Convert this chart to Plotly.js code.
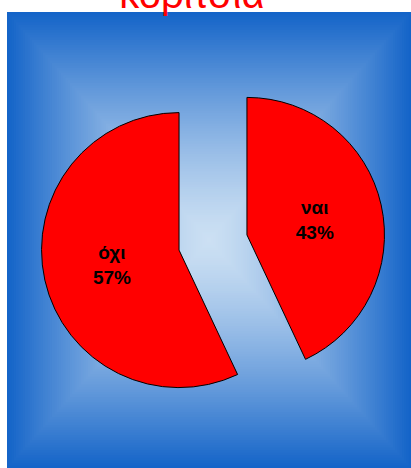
<!DOCTYPE html>
<html>
<head>
<meta charset="utf-8">
<script src="https://cdn.plot.ly/plotly-3.0.1.min.js"></script>
<style>
  html, body { margin: 0; padding: 0; background: #ffffff; }
  #chart { width: 411px; height: 468px; }
</style>
</head>
<body>
<div id="chart"></div>
<script>
// ---- data ----
const categories = ['ναι', 'όχι'];
const values = [43, 57];
const chartTitle = 'κορίτσια';

// ---- background rectangular gradient (styling) ----
const centerColor = [204, 224, 243];
const edgeColor = [20, 100, 200];
const steps = 90;
const shapes = [];
for (let i = 0; i < steps; i++) {
  const t = 1 - i / steps;           // 1 at outer edge -> small at center
  const k = Math.pow(t, 1.35);
  const c = centerColor.map((cc, j) => Math.round(cc + (edgeColor[j] - cc) * k));
  shapes.push({
    type: 'rect', xref: 'paper', yref: 'paper', layer: 'below',
    x0: 0.5 - 0.5 * t, x1: 0.5 + 0.5 * t,
    y0: 0.5 - 0.5 * t, y1: 0.5 + 0.5 * t,
    fillcolor: 'rgb(' + c.join(',') + ')',
    line: { width: 0 }
  });
}

const trace = {
  type: 'pie',
  labels: categories,
  values: values,
  sort: false,
  direction: 'clockwise',
  rotation: 0,
  pull: [0.253, 0.253],
  marker: { colors: ['#ff0000', '#ff0000'], line: { color: '#000000', width: 1 } },
  textinfo: 'label+percent',
  textposition: 'inside',
  insidetextorientation: 'horizontal',
  textfont: { family: 'Liberation Sans, Arial, sans-serif', size: 19, color: '#000000', weight: 'bold' },
  hoverinfo: 'none',
  showlegend: false,
  domain: { x: [0.0834, 0.9364], y: [0.0559, 0.9331] }
};

const layout = {
  width: 411, height: 468,
  margin: { l: 7, r: 0, t: 12, b: 0, pad: 0 },
  paper_bgcolor: '#ffffff',
  plot_bgcolor: 'rgba(0,0,0,0)',
  showlegend: false,
  title: {
    text: chartTitle,
    font: { family: 'Liberation Sans, Arial, sans-serif', size: 40, color: '#ff0000' },
    xref: 'container', yref: 'container',
    x: 0.467, xanchor: 'center',
    y: 1 - 8 / 468, yanchor: 'bottom'
  },
  shapes: shapes
};

Plotly.newPlot('chart', [trace], layout, { displayModeBar: false, staticPlot: true });
</script>
</body>
</html>
